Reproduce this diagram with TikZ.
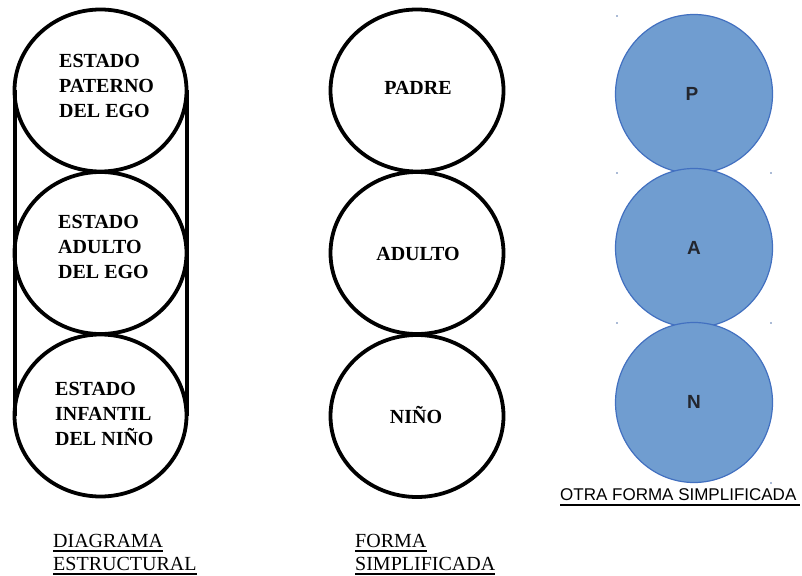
\documentclass[tikz,border=0pt]{standalone}
\usepackage{fontspec}
\setmainfont{Liberation Serif}
\newfontfamily\sansf{Liberation Sans}
\definecolor{bluefill}{RGB}{112,157,208}
\definecolor{blueedge}{RGB}{66,112,192}
\definecolor{lettergray}{RGB}{35,38,46}
\tikzset{
  bluering/.style={fill=bluefill, draw=blueedge, line width=1.2pt},
  ringtext/.style={font=\bfseries\fontsize{20}{25}\selectfont, inner sep=0pt, align=left, anchor=west},
  midtext/.style={font=\bfseries\fontsize{20}{25}\selectfont, inner sep=0pt},
  lettertext/.style={font=\sansf\bfseries\fontsize{19}{22}\selectfont, text=lettergray, inner sep=0pt},
  captext/.style={font=\fontsize{20}{23}\selectfont, inner sep=0pt, anchor=base west},
  handle/.style={fill=blueedge!70!gray, circle, inner sep=0pt, minimum size=1.6pt},
  sideline/.style={line width=3.8pt},
  ring/.style={line width=3.8pt}
}
\begin{document}
\begin{tikzpicture}[x=1pt,y=-1pt]
\useasboundingbox (0,0) rectangle (802,575);
% structural diagram
\coordinate (lt) at (15,90);
\coordinate (lb) at (15,416);
\coordinate (rt) at (187,90);
\coordinate (rb) at (187,416);
\draw[sideline] (lt) -- (lb);
\draw[sideline] (rt) -- (rb);
\draw[ring] (100.5,90.5) ellipse [x radius=86, y radius=81];
\draw[ring] (100.5,253) ellipse [x radius=86, y radius=81];
\draw[ring] (100.5,415.5) ellipse [x radius=86, y radius=81];
\node[ringtext] (s1) at (59,85.5) {ESTADO\\PATERNO\\DEL EGO};
\node[ringtext] (s2) at (58,247) {ESTADO\\ADULTO\\DEL EGO};
\node[ringtext] (s3) at (55,414) {ESTADO\\INFANTIL\\DEL NIÑO};
% simplified form
\draw[ring] (417,90.5) ellipse [x radius=86.5, y radius=81];
\draw[ring] (417,253) ellipse [x radius=86.5, y radius=81];
\draw[ring] (417,416) ellipse [x radius=86.5, y radius=81];
\node[midtext] (m1) at (418,88) {PADRE};
\node[midtext] (m2) at (418,254) {ADULTO};
\node[midtext] (m3) at (416,415) {NIÑO};
% other simplified form
\draw[bluering] (694,94) ellipse [x radius=78.5, y radius=79.5];
\draw[bluering] (694,248) ellipse [x radius=78.5, y radius=79.5];
\draw[bluering] (694,402.5) ellipse [x radius=78.5, y radius=80];
\node[lettertext] (p) at (692,94) {P};
\node[lettertext] (a) at (694,248) {A};
\node[lettertext] (n) at (694,402) {N};
\node[handle] (h1) at (617,16) {};
\node[handle] (h2) at (617,173) {};
\node[handle] (h3) at (771,173) {};
\node[handle] (h4) at (617,323) {};
\node[handle] (h5) at (771,323) {};
\node[handle] (h6) at (771,483) {};
% captions
\node[font=\sansf\fontsize{17}{20}\selectfont, inner sep=0pt, anchor=base west] (c3) at (560,500) {OTRA FORMA SIMPLIFICADA};
\draw[line width=2.2pt] (c3.base west) ++(0,5) -- ++(240,0);
\node[captext] (c1a) at (53,547) {DIAGRAMA};
\node[captext] (c1b) at (53,570) {ESTRUCTURAL};
\node[captext] (c2a) at (355,547) {FORMA};
\node[captext] (c2b) at (355,570) {SIMPLIFICADA};
\foreach \c in {c1a,c1b,c2a,c2b}{
  \draw[line width=1.2pt] ([yshift=-4pt]\c.base west) -- ([yshift=-4pt]\c.base east);
}
\end{tikzpicture}
\end{document}
